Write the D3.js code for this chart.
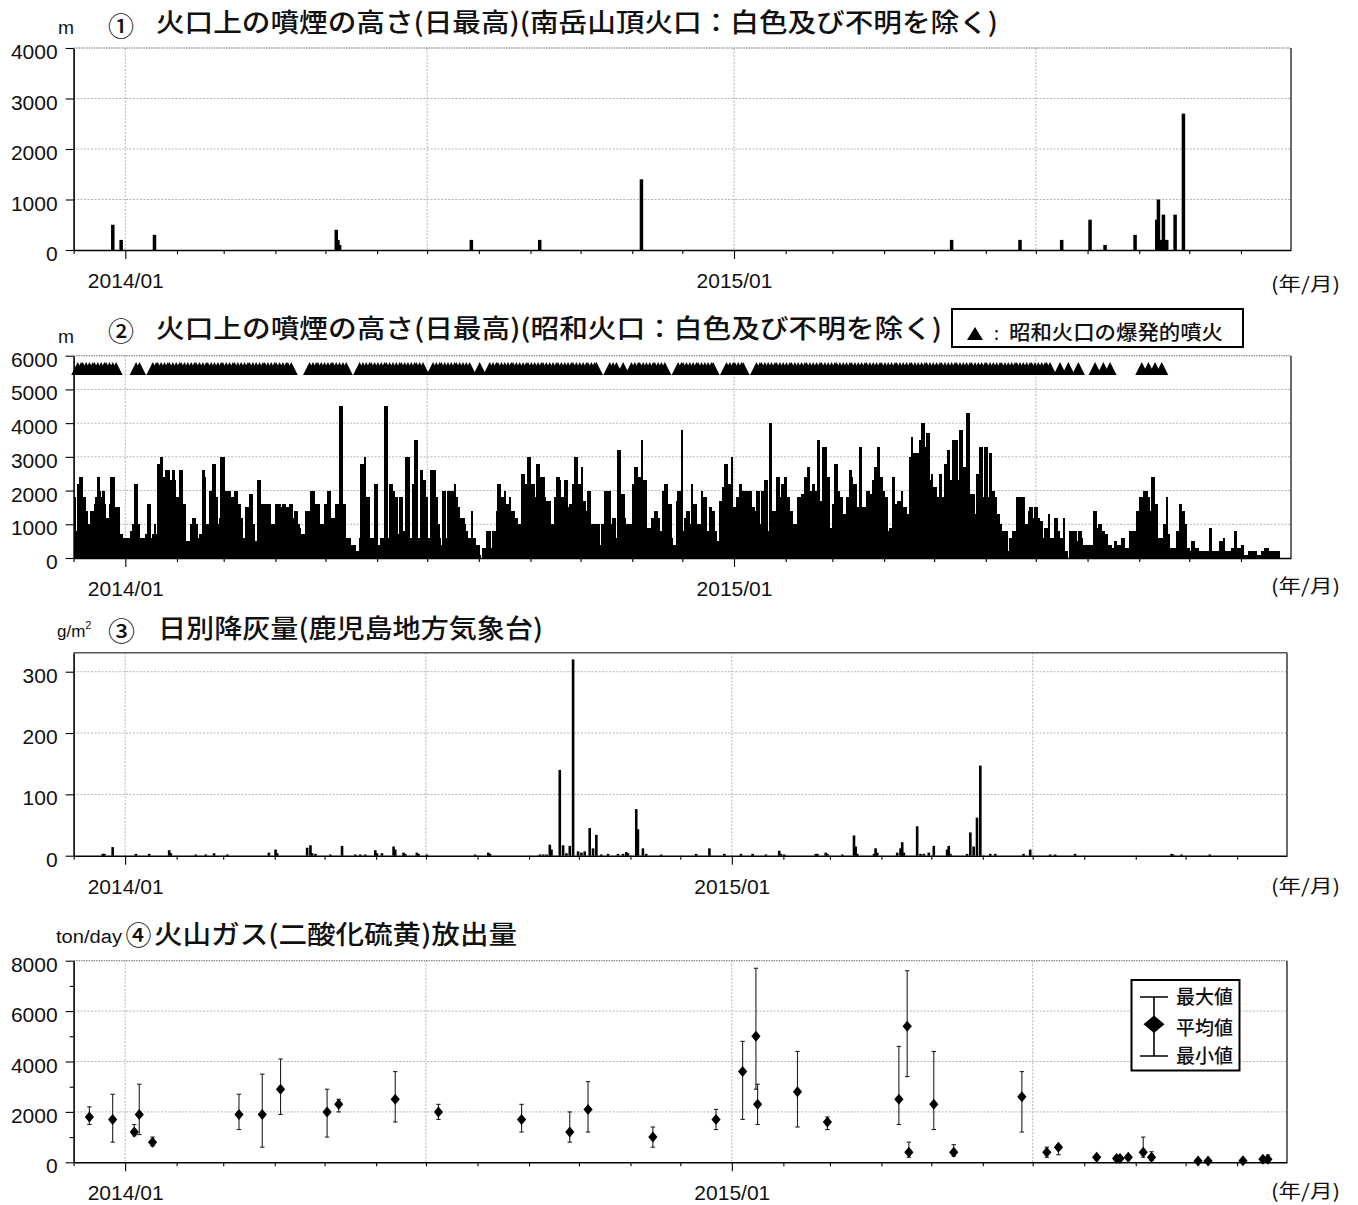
<!DOCTYPE html>
<html>
<head>
<meta charset="utf-8">
<script src="https://cdn.jsdelivr.net/npm/d3@7"></script>
<style>
  body { margin: 0; background: #fff; }
  svg { display: block; }
</style>
</head>
<body>
<script>
// ---------------------------------------------------------------
// Sakurajima monitoring summary, Dec 2013 – Nov 2015
// ---------------------------------------------------------------

const PERIOD = ["2013-12-01", "2015-12-01"];

// ① Minamidake summit crater: daily max plume height above crater (m)
const minamidakeDates = ["2013-12-24","2013-12-29","2014-01-18","2014-05-07","2014-05-08","2014-05-09",
  "2014-07-27","2014-09-06","2014-11-06","2015-05-11","2015-06-21","2015-07-16","2015-08-02",
  "2015-08-11","2015-08-29","2015-09-11","2015-09-12","2015-09-14","2015-09-15","2015-09-16",
  "2015-09-17","2015-09-22","2015-09-27"];
const minamidakeHeight = [500,200,300,400,200,100,200,200,1400,200,200,200,600,100,300,600,1000,200,700,200,200,700,2700];

// ② Showa crater: daily max plume height (m), one value per day from 2013-12-01
const showaDailyHeight = [
  1800,800,2200,2400,2400,1800,1800,1400,1000,600,
  1400,1400,1600,1800,2400,2000,1800,2000,1600,1200,
  1200,1600,2400,2400,1500,1500,1500,700,700,600,
  400,600,600,600,800,1000,2200,2200,1000,200,
  600,600,500,700,1600,1600,600,700,1000,700,
  2800,2800,3000,2400,2400,2600,2600,2300,2300,2600,
  2300,1800,1800,2600,2600,1600,1600,500,500,500,
  1000,1200,1200,1000,600,700,700,2600,2400,1000,
  1000,2000,2000,2800,2800,1800,1000,1200,3000,3000,
  2000,2000,2000,2000,1800,1800,2000,2000,1600,1600,
  1200,600,600,1500,1500,1900,1900,1000,500,500,
  2300,2300,1600,1600,1200,1600,1600,1600,1000,1000,
  1000,1600,1600,1600,1500,1600,1600,1500,1500,1600,
  1600,1200,1400,1400,1000,900,700,700,700,1400,
  1400,1000,2000,2000,1000,1600,1600,400,1000,1000,
  1600,1600,2000,2000,1200,1200,1200,1600,1600,4500,
  4500,1600,1600,600,600,600,400,400,400,200,
  200,600,2800,2800,3000,1800,1800,600,600,600,
  2200,2200,400,400,600,600,4500,4500,600,2200,
  2200,2000,1800,1800,700,1800,1800,800,800,3000,
  3000,600,600,2200,3500,3500,600,600,2600,2300,
  2300,1800,600,600,2600,2600,2600,1800,1000,600,
  400,2000,2000,600,2000,1800,2000,2000,2200,1800,
  1500,1000,1200,1200,1000,800,600,600,1400,600,
  600,400,400,100,0,300,300,800,800,800,
  300,800,800,1400,2200,2200,1800,1800,2000,1600,
  1600,1800,1400,1400,1200,1200,1000,1000,2500,2500,
  2200,2200,3000,3000,2200,2200,1800,2800,2800,2400,
  2400,2400,1800,1700,1700,1700,1000,1000,1800,2400,
  2400,2300,1800,1800,2300,2300,1500,1600,1600,2200,
  3000,3000,2200,2200,2700,1700,1700,1400,2000,2000,
  1000,1000,1000,1000,1000,400,1000,1000,2000,2000,
  2000,2000,1000,1200,1200,600,3200,3200,1900,1900,
  1200,1000,1000,1000,1000,2200,2700,2700,2400,2400,
  3500,2300,2300,900,900,900,1200,1200,1400,1400,
  1200,800,800,2000,2200,2200,1600,1600,600,400,
  400,1700,2000,2000,3800,800,1200,1400,1400,1000,
  2200,1600,1600,1000,1000,1000,2000,1800,1800,800,
  800,1500,1400,1400,800,500,500,1700,1700,2100,
  2800,2800,2200,2200,3000,1500,1500,1800,1800,2200,
  2000,2000,2000,2000,2000,2000,1500,1500,1400,2000,
  2000,1000,2000,2000,2300,2300,800,4000,1400,1400,
  1400,2400,2400,1800,2200,2200,2400,1800,1800,1400,
  1400,1000,1000,1000,1800,1800,1900,1900,2400,2400,
  2700,2000,2000,2200,2000,2000,3500,1700,1700,3300,
  3300,2400,2400,900,900,1600,2800,2800,2000,1800,
  1800,1300,1300,1800,1800,2600,2400,2200,2200,1500,
  1500,3300,1500,1500,1500,2000,2000,1900,1900,2300,
  2700,2700,3300,2400,2400,2000,1800,1800,800,900,
  900,2400,1600,1600,1700,1700,2000,1500,1500,1300,
  1300,3000,3600,3100,3100,3100,3100,3500,4000,4000,
  3300,3700,3700,2300,2500,2100,2100,1800,1800,2500,
  1800,1800,2800,2800,3200,2300,2300,3500,3500,3500,
  2300,3800,3800,2700,2700,4300,4300,1900,1900,1900,
  1300,2500,2500,3300,3300,1800,3300,3300,1800,3100,
  2000,2000,1800,1300,1300,1000,800,800,800,800,
  200,600,600,800,800,1800,1800,1800,1800,1800,
  1000,1000,1400,1500,1500,1200,1500,1500,1200,1100,
  1100,600,900,900,1300,600,600,600,1200,1200,
  800,600,600,1200,200,200,0,800,800,800,
  800,500,800,800,600,400,400,400,400,400,
  400,1400,1400,900,1000,1000,800,800,700,700,
  400,400,300,300,500,400,400,400,600,600,
  300,300,300,800,800,800,800,1400,1400,1800,
  1800,2000,2000,2000,1800,1400,2400,2400,1600,1600,
  600,600,600,1000,1000,1800,700,300,300,300,
  300,800,800,1600,1400,1400,1000,300,300,200,
  500,500,300,300,200,200,200,200,200,200,
  200,900,200,200,200,200,200,500,500,600,
  200,200,200,200,300,300,800,300,300,300,
  400,100,100,100,200,200,200,200,200,100,
  100,100,200,200,300,300,200,200,200,200,
  200,200,200
];

// ② Days with explosive eruptions at Showa crater (days after 2013-12-01)
const explosionDays = [
  2,4,5,7,9,11,12,14,16,18,19,21,23,25,
  37,39,
  47,49,50,52,54,56,57,59,61,63,64,66,68,70,72,73,75,77,79,80,82,84,86,88,89,91,93,95,96,98,
  100,102,104,105,107,109,111,113,114,116,118,120,121,123,125,127,128,130,
  141,143,145,146,148,150,152,154,155,157,159,161,163,
  171,173,175,177,178,180,182,184,186,187,189,191,193,195,196,198,200,202,204,205,207,209,
  215,217,219,220,222,224,226,228,229,231,233,235,237,
  243,
  249,251,253,254,256,258,260,262,263,265,267,269,271,272,274,276,278,280,281,283,285,287,
  289,290,292,294,296,298,299,301,303,305,307,308,310,312,313,
  321,323,325,329,
  334,336,338,339,341,343,345,347,348,350,352,354,
  362,364,365,367,369,371,373,374,376,378,380,382,383,
  391,393,395,396,398,400,401,
  409,411,412,414,416,418,420,421,423,425,427,429,430,432,434,436,438,439,441,443,445,447,
  448,450,452,454,456,457,459,461,463,465,466,468,470,472,474,475,477,479,481,483,484,486,
  488,490,492,493,495,497,499,501,502,504,506,508,510,511,513,515,517,519,520,522,524,526,
  528,529,531,533,535,537,538,540,542,544,546,547,549,551,553,555,556,558,560,562,564,565,
  567,569,571,573,574,576,578,580,582,583,585,
  591,596,602,612,617,621,640,644,648,652
];

// ③ Daily ash fall at Kagoshima Local Meteorological Office (g/m²)
const ashDates = ["2013-12-18","2013-12-19","2013-12-24","2014-01-07","2014-01-15","2014-01-27","2014-01-28",
  "2014-02-12","2014-02-18","2014-02-23","2014-03-03","2014-03-28","2014-04-01","2014-04-02","2014-04-20",
  "2014-04-22","2014-04-23","2014-04-25","2014-05-04","2014-05-11","2014-05-19","2014-05-22","2014-05-25",
  "2014-05-31","2014-06-01","2014-06-04","2014-06-11","2014-06-12","2014-06-17","2014-06-18","2014-06-25",
  "2014-06-26","2014-07-01","2014-07-30","2014-08-07","2014-08-08","2014-09-07","2014-09-09","2014-09-11",
  "2014-09-13","2014-09-14","2014-09-19","2014-09-21","2014-09-23","2014-09-25","2014-09-27","2014-09-30",
  "2014-10-02","2014-10-04","2014-10-07","2014-10-09","2014-10-11","2014-10-14","2014-10-18","2014-10-24",
  "2014-10-27","2014-10-29","2014-10-30","2014-11-04","2014-11-05","2014-11-08","2014-11-10","2014-11-19",
  "2014-12-10","2014-12-18","2014-12-27","2015-01-06","2015-01-13","2015-01-21","2015-01-29","2015-01-30",
  "2015-02-01","2015-02-20","2015-02-21","2015-02-26","2015-02-27","2015-03-08","2015-03-15","2015-03-16",
  "2015-03-17","2015-03-27","2015-03-28","2015-03-29","2015-04-10","2015-04-12","2015-04-13","2015-04-14",
  "2015-04-22","2015-04-24","2015-04-26","2015-04-29","2015-05-02","2015-05-10","2015-05-11","2015-05-12",
  "2015-05-22","2015-05-24","2015-05-26","2015-05-28","2015-05-30","2015-06-05","2015-06-08","2015-06-25",
  "2015-06-29","2015-07-11","2015-07-14","2015-07-26","2015-09-22","2015-09-23","2015-09-28","2015-10-15"];
const ashValues = [3,3,14,3,3,9,4,
  2,2,4,2,5,10,4,13,
  17,4,3,2,16,2,2,2,
  9,4,4,15,10,5,3,5,
  3,2,2,5,3,2,2,2,
  18,10,140,17,4,16,320,7,
  5,7,45,12,34,2,3,3,
  3,6,4,76,43,12,3,2,
  3,12,3,3,3,2,8,3,
  2,3,3,5,3,2,33,15,
  3,3,12,5,5,12,22,5,
  48,3,3,5,16,10,16,3,
  3,38,15,62,147,3,3,3,
  10,2,2,3,3,2,2,2];

// ④ SO2 emission rate (ton/day): mean, max, min per survey
const so2Dates = ["2013-12-10","2013-12-24","2014-01-06","2014-01-09","2014-01-17","2014-03-10","2014-03-24",
  "2014-04-04","2014-05-02","2014-05-09","2014-06-12","2014-07-08","2014-08-27","2014-09-25","2014-10-06",
  "2014-11-14","2014-12-22","2015-01-07","2015-01-15","2015-01-16","2015-02-09","2015-02-27","2015-04-11",
  "2015-04-16","2015-04-17","2015-05-02","2015-05-14","2015-06-24","2015-07-09","2015-07-16","2015-08-08",
  "2015-08-20","2015-08-22","2015-08-27","2015-09-05","2015-09-10","2015-10-08","2015-10-14","2015-11-04",
  "2015-11-16","2015-11-19"];
const so2Mean = [1800,1700,1200,1900,800,1900,1900,2900,2000,2300,2500,2000,1700,1200,2100,1000,1700,3600,5000,2300,
  2800,1600,2500,5400,400,2300,400,2600,400,600,200,150,150,200,400,200,50,50,60,120,120];
const so2Max = [2200,2700,1500,3100,1000,2700,3500,4100,2900,2500,3600,2300,2300,2000,3200,1400,2100,4800,7700,3100,
  4400,1800,4600,7600,800,4400,700,3600,600,700,250,250,200,250,1000,420,80,80,90,200,290];
const so2Min = [1500,800,1050,1100,650,1300,600,1900,1000,2000,1600,1700,1200,800,1200,600,1300,1700,2900,1500,
  1400,1300,1500,3400,200,1300,250,1200,200,300,100,80,80,100,200,70,30,30,30,50,30];

// Axis ticks and labels
const yTicksPlume1 = [0,1000,2000,3000,4000];
const yTicksPlume2 = [0,1000,2000,3000,4000,5000,6000];
const yTicksAsh = [0,100,200,300];
const yTicksSO2 = [0,2000,4000,6000,8000];
const yMinorSO2 = [1000,3000,5000,7000];
const labelledMonths = ["2014-01-01","2015-01-01"];
const gridMonths = ["2014-01-01","2014-07-01","2015-01-01","2015-07-01"];
const axisUnitLabel = "(年/月)";

// ---------------------------------------------------------------
const NUM_FONT = "'Liberation Sans', Arial, sans-serif";
const JP_FONT = "'Noto Sans CJK JP', 'Noto Sans', sans-serif";
const parse = d3.timeParse("%Y-%m-%d");
const t0 = parse(PERIOD[0]), t1 = parse(PERIOD[1]);
const labelSet = new Set(labelledMonths);
const gridSet = new Set(gridMonths);
const ymd = d3.timeFormat("%Y-%m-%d");
const ym = d3.timeFormat("%Y/%m");
const mid = d => d3.timeHour.offset(d, 12);

const svg = d3.select("body").append("svg")
  .attr("width", 1358).attr("height", 1205)
  .style("background", "#fff");

function makePanel(o) {
  const x = d3.scaleTime().domain([t0, t1]).range([o.left, o.right]);
  const y = d3.scaleLinear().domain([0, o.yMax]).range([o.bottom, o.top]);
  const g = svg.append("g");
  const grid = g.append("g").attr("fill", "none");
  grid.selectAll("line.h").data(o.yTicks.filter(v => v > 0 && v < o.yMax)).join("line")
    .attr("class", "h")
    .attr("x1", o.left).attr("x2", o.right)
    .attr("y1", d => y(d)).attr("y2", d => y(d))
    .attr("stroke", "#b4b4b4").attr("stroke-dasharray", "2,1.5");
  grid.selectAll("line.v").data(d3.timeMonth.range(t0, t1).filter(d => gridSet.has(ymd(d)))).join("line")
    .attr("class", "v")
    .attr("x1", d => x(d)).attr("x2", d => x(d))
    .attr("y1", o.top).attr("y2", o.bottom)
    .attr("stroke", "#b4b4b4").attr("stroke-dasharray", "2,1.5");
  // frame: top and right edges
  g.append("line").attr("x1", o.left).attr("x2", o.right).attr("y1", o.top).attr("y2", o.top)
    .attr("stroke", o.solidTop ? "#555" : "#666")
    .attr("stroke-width", o.solidTop ? 1.6 : 1.1)
    .attr("stroke-dasharray", o.solidTop ? null : "1.5,1");
  g.append("line").attr("x1", o.right).attr("x2", o.right).attr("y1", o.top).attr("y2", o.bottom)
    .attr("stroke", "#444").attr("stroke-width", 1.6);
  return { x, y, g, o };
}

function drawAxes(p) {
  const { x, y, g, o } = p;
  const months = d3.timeMonth.range(t0, t1);
  const xb = g.append("g").attr("transform", `translate(0,${o.bottom})`)
    .call(d3.axisBottom(x).tickValues(months).tickSizeInner(4).tickSizeOuter(0)
      .tickFormat(d => labelSet.has(ymd(d)) ? ym(d) : ""));
  xb.attr("font-family", NUM_FONT).attr("font-size", 21);
  xb.select(".domain").attr("stroke", "#000").attr("stroke-width", 1.6);
  xb.selectAll(".tick line").attr("stroke", "#000").attr("stroke-width", 1.1)
    .attr("y2", d => labelSet.has(ymd(d)) ? 9 : 4);
  xb.selectAll(".tick text").attr("y", 38).attr("dy", 0).attr("fill", "#111");

  const yl = g.append("g").attr("transform", `translate(${o.left},0)`)
    .call(d3.axisLeft(y).tickValues(o.yTicks).tickSizeInner(8).tickSizeOuter(0).tickPadding(8)
      .tickFormat(d3.format("d")));
  yl.attr("font-family", NUM_FONT).attr("font-size", 21);
  yl.select(".domain").attr("stroke", "#000").attr("stroke-width", 1.6);
  yl.selectAll(".tick line").attr("stroke", "#000").attr("stroke-width", 1.1);
  yl.selectAll(".tick text").attr("dy", 10.5).attr("fill", "#111");

  if (o.yMinor) {
    const ym2 = g.append("g").attr("transform", `translate(${o.left},0)`)
      .call(d3.axisLeft(y).tickValues(o.yMinor).tickSizeInner(4).tickSizeOuter(0).tickFormat(""));
    ym2.select(".domain").remove();
    ym2.selectAll(".tick line").attr("stroke", "#000").attr("stroke-width", 1.1);
  }

  svg.append("text").attr("x", 1271).attr("y", o.unitY)
    .attr("font-family", JP_FONT).attr("font-size", 19)
    .attr("textLength", 69).attr("lengthAdjust", "spacingAndGlyphs")
    .attr("fill", "#111").text(axisUnitLabel);
}

function title(t) {
  svg.append("text").attr("x", t.x).attr("y", t.y)
    .attr("font-family", t.font || JP_FONT).attr("font-size", t.size)
    .attr("font-weight", t.font ? null : 500)
    .attr("textLength", t.w).attr("lengthAdjust", "spacingAndGlyphs")
    .attr("fill", "#111").text(t.text);
}

// ---------------- ① ----------------
const p1 = makePanel({ left: 73.6, right: 1291, top: 48, bottom: 250, yMax: 4000,
  yTicks: yTicksPlume1, unitY: 291 });
p1.g.append("g").selectAll("rect").data(minamidakeHeight).join("rect")
  .attr("x", (v, i) => p1.x(mid(parse(minamidakeDates[i]))) - 1.75)
  .attr("width", 3.5)
  .attr("y", v => p1.y(v)).attr("height", v => p1.y(0) - p1.y(v))
  .attr("fill", "#000");
drawAxes(p1);
title({ x: 58, y: 34, size: 18, w: 16, text: "m", font: NUM_FONT });
title({ x: 108, y: 36, size: 26, w: 26, text: "①" });
title({ x: 156, y: 32, size: 26, w: 842, text: "火口上の噴煙の高さ(日最高)(南岳山頂火口：白色及び不明を除く)" });

// ---------------- ② ----------------
const p2 = makePanel({ left: 73.6, right: 1291, top: 355.7, bottom: 558, yMax: 6000,
  yTicks: yTicksPlume2, unitY: 593 });
p2.g.append("g").attr("shape-rendering", "crispEdges")
  .selectAll("rect").data(showaDailyHeight).join("rect")
  .attr("x", (v, i) => p2.x(d3.timeDay.offset(t0, i)))
  .attr("width", (v, i) => p2.x(d3.timeDay.offset(t0, i + 1)) - p2.x(d3.timeDay.offset(t0, i)) + 0.9)
  .attr("y", v => p2.y(v)).attr("height", v => p2.y(0) - p2.y(v))
  .attr("fill", "#000");
// explosion markers: solid triangles along the top of the panel
const triBase = p2.y(5430), triH = 13, triHalf = 6.5;
p2.g.append("g").selectAll("path").data(explosionDays).join("path")
  .attr("d", d => {
    const cx = p2.x(mid(d3.timeDay.offset(t0, d)));
    return `M${cx - triHalf},${triBase}L${cx},${triBase - triH}L${cx + triHalf},${triBase}Z`;
  })
  .attr("fill", "#000");
drawAxes(p2);
title({ x: 58, y: 343, size: 18, w: 16, text: "m", font: NUM_FONT });
title({ x: 108, y: 341, size: 26, w: 26, text: "②" });
title({ x: 156, y: 338, size: 26, w: 786, text: "火口上の噴煙の高さ(日最高)(昭和火口：白色及び不明を除く)" });
// legend
const lg2 = svg.append("g");
lg2.append("rect").attr("x", 952).attr("y", 309).attr("width", 291).attr("height", 38)
  .attr("fill", "#fff").attr("stroke", "#000").attr("stroke-width", 2);
lg2.append("path").attr("d", "M967,340L975,327L983,340Z").attr("fill", "#000");
lg2.append("text").attr("x", 994).attr("y", 340).attr("font-family", JP_FONT)
  .attr("font-size", 18).attr("fill", "#111").text(":");
lg2.append("text").attr("x", 1009).attr("y", 340).attr("font-family", JP_FONT)
  .attr("font-size", 20).attr("font-weight", 500)
  .attr("textLength", 214).attr("lengthAdjust", "spacingAndGlyphs")
  .attr("fill", "#111").text("昭和火口の爆発的噴火");

// ---------------- ③ ----------------
const p3 = makePanel({ left: 73.6, right: 1287, top: 652.7, bottom: 855.7, yMax: 331,
  yTicks: yTicksAsh, solidTop: true, unitY: 893 });
p3.g.append("g").selectAll("rect").data(ashValues).join("rect")
  .attr("x", (v, i) => p3.x(mid(parse(ashDates[i]))) - 1.3)
  .attr("width", 2.6)
  .attr("y", v => p3.y(v)).attr("height", v => p3.y(0) - p3.y(v))
  .attr("fill", "#000");
drawAxes(p3);
const gm2 = svg.append("text").attr("x", 57).attr("y", 637)
  .attr("font-family", NUM_FONT).attr("font-size", 17).attr("fill", "#111");
gm2.append("tspan").text("g/m");
gm2.append("tspan").attr("font-size", 11).attr("dy", -8).text("2");
title({ x: 108, y: 641, size: 26, w: 27, text: "③" });
title({ x: 158, y: 638, size: 26, w: 385, text: "日別降灰量(鹿児島地方気象台)" });

// ---------------- ④ ----------------
const p4 = makePanel({ left: 73.6, right: 1287, top: 960.7, bottom: 1162.3, yMax: 8000,
  yTicks: yTicksSO2, yMinor: yMinorSO2, unitY: 1198 });
const so2 = so2Dates.map((d, i) => ({ t: mid(parse(d)), mean: so2Mean[i], max: so2Max[i], min: so2Min[i] }));
const eb = p4.g.append("g").attr("stroke", "#222").attr("stroke-width", 1.1);
eb.selectAll("line.s").data(so2).join("line").attr("class", "s")
  .attr("x1", d => p4.x(d.t)).attr("x2", d => p4.x(d.t))
  .attr("y1", d => p4.y(d.max)).attr("y2", d => p4.y(d.min));
eb.selectAll("line.cmax").data(so2).join("line").attr("class", "cmax")
  .attr("x1", d => p4.x(d.t) - 2.2).attr("x2", d => p4.x(d.t) + 2.2)
  .attr("y1", d => p4.y(d.max)).attr("y2", d => p4.y(d.max));
eb.selectAll("line.cmin").data(so2).join("line").attr("class", "cmin")
  .attr("x1", d => p4.x(d.t) - 2.2).attr("x2", d => p4.x(d.t) + 2.2)
  .attr("y1", d => p4.y(d.min)).attr("y2", d => p4.y(d.min));
p4.g.append("g").selectAll("path").data(so2).join("path")
  .attr("d", d => {
    const cx = p4.x(d.t), cy = p4.y(d.mean);
    return `M${cx},${cy - 5.5}L${cx + 4.6},${cy}L${cx},${cy + 5.5}L${cx - 4.6},${cy}Z`;
  })
  .attr("fill", "#000");
drawAxes(p4);
title({ x: 56, y: 943, size: 18, w: 66, text: "ton/day", font: NUM_FONT });
title({ x: 125.5, y: 945, size: 26, w: 26, text: "④" });
title({ x: 154, y: 944, size: 26, w: 363, text: "火山ガス(二酸化硫黄)放出量" });
// legend
const lg4 = svg.append("g");
lg4.append("rect").attr("x", 1131.5).attr("y", 980).attr("width", 108).attr("height", 90.5)
  .attr("fill", "#fff").attr("stroke", "#000").attr("stroke-width", 2);
lg4.append("path").attr("d", "M1154,997V1056M1140,997H1168M1140,1056H1168")
  .attr("stroke", "#000").attr("stroke-width", 1.6).attr("fill", "none");
lg4.append("path").attr("d", "M1154,1015.5L1164.5,1024.3L1154,1033.1L1143.5,1024.3Z").attr("fill", "#000");
[["最大値", 1004], ["平均値", 1035], ["最小値", 1063]].forEach(([s, yy]) => {
  lg4.append("text").attr("x", 1176).attr("y", yy).attr("font-family", JP_FONT)
    .attr("font-size", 19).attr("font-weight", 500)
    .attr("textLength", 57).attr("lengthAdjust", "spacingAndGlyphs")
    .attr("fill", "#111").text(s);
});
</script>
</body>
</html>
